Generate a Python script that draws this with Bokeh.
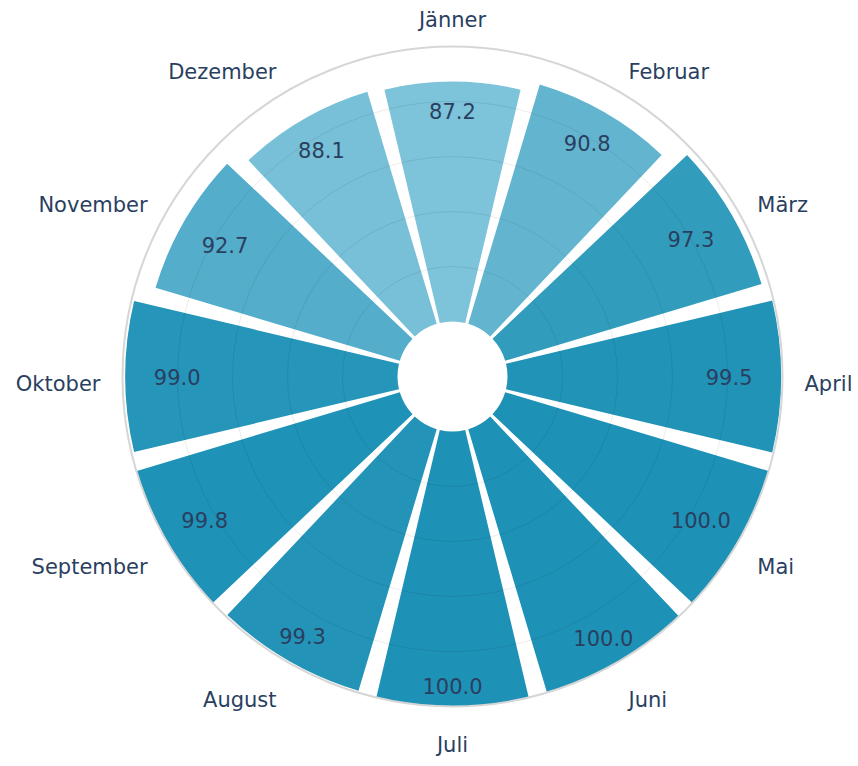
import numpy as np
from bokeh.plotting import figure
from bokeh.models import ColumnDataSource, LinearColorMapper, Range1d
from bokeh.core.properties import value
from bokeh.embed import file_html
from bokeh.resources import INLINE

# ---- data ----
months = ["Jänner", "Februar", "März", "April", "Mai", "Juni",
          "Juli", "August", "September", "Oktober", "November", "Dezember"]
availability = [87.2, 90.8, 97.3, 99.5, 100.0, 100.0,
                100.0, 99.3, 99.8, 99.0, 92.7, 88.1]
radial_ticks = [20, 40, 60, 80]
radial_max = 100

# ---- layout constants ----
W, H = 858, 758
PX = 2.75          # pixels per radial unit
HOLE = 20          # hole radius in radial units
CX, CY = 452, 376  # polar centre in figure pixels (from left / from top)
BARGAP = 0.11
FS = 21
PAD = 22
TEXT_COLOR = "#2a3f5f"
FONT = "DejaVu Sans"

n = len(months)
theta = np.deg2rad(np.arange(n) * 360.0 / n)        # clockwise from top
math_ang = np.pi / 2 - theta
half = np.deg2rad(360.0 / n * (1 - BARGAP) / 2)

vals = np.array(availability)
src = ColumnDataSource(dict(
    month=months,
    val=vals,
    outer=HOLE + vals,
    start=math_ang - half,
    end=math_ang + half,
))

p = figure(width=W, height=H, output_backend="svg", toolbar_location=None,
           x_axis_type=None, y_axis_type=None,
           x_range=Range1d(-CX / PX, (W - CX) / PX),
           y_range=Range1d(-(H - CY) / PX, CY / PX),
           min_border=0, outline_line_color=None,
           background_fill_color="white", border_fill_color="white")
p.grid.visible = False

# colour scale
c0 = np.array([125, 195, 217])
c1 = np.array([30, 145, 182])
palette = ["#%02x%02x%02x" % tuple(np.round(c0 + (c1 - c0) * t).astype(int))
           for t in np.linspace(0, 1, 256)]
mapper = LinearColorMapper(palette=palette, low=min(availability), high=max(availability))

p.annular_wedge(x=0, y=0, inner_radius=HOLE, outer_radius="outer",
                start_angle="start", end_angle="end", direction="anticlock",
                fill_color={"field": "val", "transform": mapper},
                line_color=None, source=src)

# radial grid (drawn above bars like plotly)
p.circle(x=[0] * len(radial_ticks), y=[0] * len(radial_ticks),
         radius=[HOLE + t for t in radial_ticks],
         fill_color=None, line_color="black", line_alpha=0.08, line_width=1)
# outer line
p.circle(x=[0], y=[0], radius=[HOLE + radial_max], fill_color=None,
         line_color="#d6d6d6", line_width=2)

# value labels inside bars
off = 52 + 4 * np.cos(theta) - 27 * np.cos(theta) ** 2
r_txt = (HOLE + vals) * PX - off
p.text(x=r_txt * np.sin(theta) / PX, y=r_txt * np.cos(theta) / PX,
       text=[f"{v:.1f}" for v in availability],
       text_font=value(FONT), text_font_size=f"{FS}px", text_color=TEXT_COLOR,
       text_align="center", text_baseline="middle")

# month labels (plotly-like angular tick placement)
R = (HOLE + radial_max) * PX
c = np.cos(math_ang)
s = np.sin(math_ang)
ff = np.where(s > 1e-6, 0.2, 0.8)
lx = (R * c + c * PAD) / PX
ly = (R * s + s * (PAD + FS * ff) - np.abs(c) * FS * 0.35) / PX
for align, mask in (("center", np.abs(c) < 0.1),
                    ("left", (np.abs(c) >= 0.1) & (c > 0)),
                    ("right", (np.abs(c) >= 0.1) & (c < 0))):
    idx = np.where(mask)[0]
    p.text(x=lx[idx], y=ly[idx], text=[months[i] for i in idx],
           text_font=value(FONT), text_font_size=f"{FS}px", text_color=TEXT_COLOR,
           text_align=align, text_baseline="alphabetic")

open("out.html", "w").write(file_html(p, INLINE))
